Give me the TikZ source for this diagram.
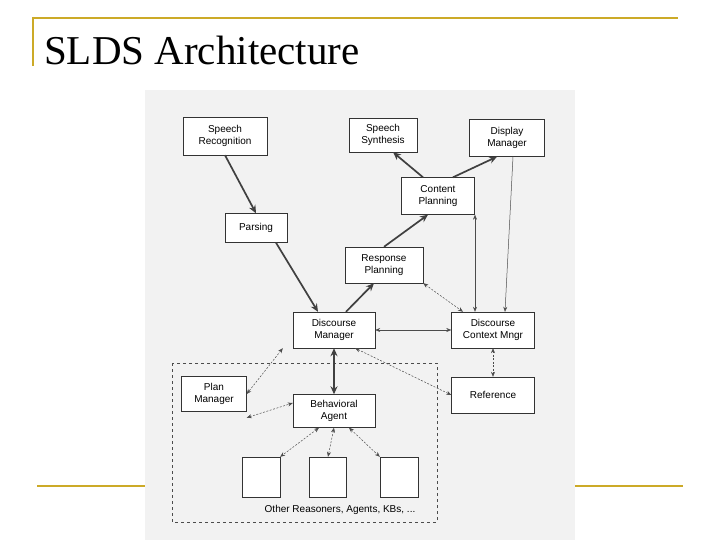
\documentclass[tikz,border=0pt]{standalone}
\usepackage{fontspec}
\setmainfont{Liberation Serif}
\newfontfamily\diag{Liberation Sans}
\usetikzlibrary{arrows.meta}
\definecolor{gold}{RGB}{204,170,40}
\begin{document}
\begin{tikzpicture}[x=1pt,y=-1pt,
  bx/.style={draw=black!80,fill=white,font=\diag\fontsize{10}{12}\selectfont,align=center,inner sep=0pt},
  thick arr/.style={line width=1.7pt,draw=black!75,-{Stealth[length=8pt,width=7pt]}},
  thin arr/.style={line width=0.5pt,draw=black!70,{Stealth[length=5pt,width=4pt]}-{Stealth[length=5pt,width=4pt]}},
  dash arr/.style={thin arr,dash pattern=on 2pt off 1.5pt}]
\useasboundingbox (0,0) rectangle (720,540);
\fill[white] (0,0) rectangle (720,540);
% slide decorations
\draw[gold,line width=2.2pt] (33,18) -- (678,18);
\draw[gold,line width=2.2pt] (33,17) -- (33,66);
\draw[gold,line width=2.2pt] (37,486) -- (145,486);
\draw[gold,line width=2.2pt] (575,486) -- (683,486);
\node[anchor=base west,font=\fontsize{41}{45}\selectfont,inner sep=0pt] (title) at (44,65) {SLDS Architecture};
% scan area
\fill[black!5] (145,90) rectangle (575,540);
% nodes
\node[bx,minimum width=84pt,minimum height=38pt] (sr) at (225,136) {Speech\\Recognition};
\node[bx,minimum width=68pt,minimum height=34pt] (ss) at (383,135) {Speech\\Synthesis};
\node[bx,minimum width=75pt,minimum height=37pt] (dpm) at (507,138) {Display\\Manager};
\node[bx,minimum width=73pt,minimum height=37pt] (cp) at (438,196) {Content\\Planning};
\node[bx,minimum width=62pt,minimum height=29pt] (pa) at (256,228) {Parsing};
\node[bx,minimum width=78pt,minimum height=36pt] (rp) at (384,265) {Response\\Planning};
\node[bx,minimum width=82pt,minimum height=36pt] (dm) at (334,330) {Discourse\\Manager};
\node[bx,minimum width=83pt,minimum height=36pt] (dcm) at (493,330) {Discourse\\Context Mngr};
\draw[dashed,black!70,line width=0.5pt] (172,363) rectangle (437,522);
\node[bx,minimum width=65pt,minimum height=35pt] (pm) at (214,394) {Plan\\Manager};
\node[bx,minimum width=82pt,minimum height=33pt] (ba) at (334,411) {Behavioral\\Agent};
\node[bx,minimum width=83pt,minimum height=36pt] (ref) at (493,395) {Reference};
\node[bx,minimum width=38pt,minimum height=40pt] (o1) at (261,477) {};
\node[bx,minimum width=37pt,minimum height=40pt] (o2) at (328,477) {};
\node[bx,minimum width=38pt,minimum height=40pt] (o3) at (399,477) {};
\node[font=\diag\fontsize{10}{12}\selectfont,fill=black!5,inner sep=1pt] (oth) at (340,510) {Other Reasoners, Agents, KBs, ...};
% connectors
\draw[thick arr] (sr.south) -- (pa.north);
\draw[thick arr] ([xshift=20pt]pa.south) -- ([xshift=-16pt]dm.north);
\draw[thick arr] ([xshift=12pt]dm.north) -- ([xshift=-10pt]rp.south);
\draw[thick arr] (rp.north) -- ([xshift=-10pt]cp.south);
\draw[thick arr] ([xshift=-15pt]cp.north) -- ([xshift=10pt]ss.south);
\draw[thick arr] ([xshift=15pt]cp.north) -- ([xshift=-10pt]dpm.south);
\draw[line width=0.5pt,draw=black!70,-{Stealth[length=5pt,width=4pt]}] ([xshift=6pt]dpm.south) -- ([xshift=12pt]dcm.north);
\draw[thin arr] ([xshift=-18pt]dcm.north) -- ([xshift=37pt]cp.south);
\draw[dash arr] (rp.south east) -- ([xshift=-30pt]dcm.north);
\draw[thin arr] (dm.east) -- (dcm.west);
\draw[dash arr] (dcm.south) -- (ref.north);
\draw[dash arr] ([xshift=-20pt]dm.south east) -- (ref.west);
\draw[line width=1.7pt,draw=black!75,{Stealth[length=8pt,width=7pt]}-{Stealth[length=8pt,width=7pt]}] (dm.south) -- (ba.north);
\draw[dash arr] ([xshift=-10pt]dm.south west) -- (pm.east);
\draw[dash arr] ([yshift=-6pt]pm.south east) -- ([yshift=8pt]ba.west);
\draw[dash arr] ([xshift=-15pt]ba.south) -- (o1.north east);
\draw[dash arr] (ba.south) -- (o2.north);
\draw[dash arr] ([xshift=15pt]ba.south) -- (o3.north west);
\end{tikzpicture}
\end{document}
